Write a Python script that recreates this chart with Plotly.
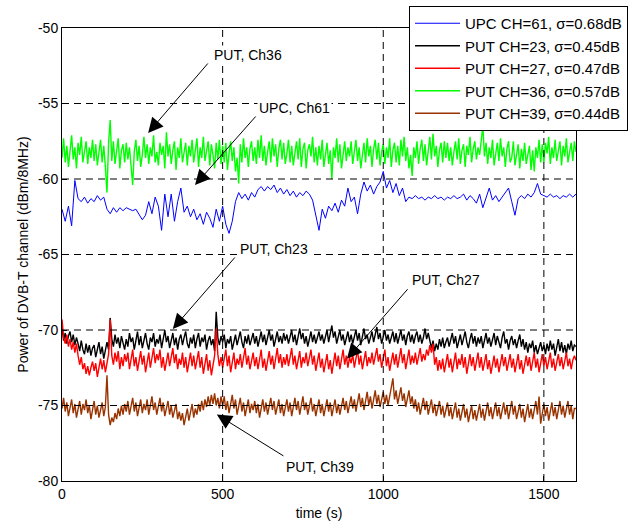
import plotly.graph_objects as go

t_fast = list(range(0, 1601, 5))
t_slow = list(range(0, 1601, 10))

upc61 = [
    -62.0, -62.8, -61.8, -63.1, -60.1, -61.3, -61.5, -61.2, -61.6, -61.3,
    -61.5, -61.1, -61.4, -61.2, -62.0, -62.3, -61.9, -62.2, -61.9, -62.1,
    -61.9, -62.0, -62.1, -62.0, -62.4, -62.7, -62.4, -61.5, -62.3, -61.2,
    -61.8, -63.4, -61.0, -62.5, -61.0, -62.8, -61.5, -60.6, -62.2, -61.8,
    -62.5, -62.0, -62.7, -62.3, -63.0, -62.2, -62.6, -63.2, -62.0, -62.8,
    -61.8, -63.0, -63.6, -62.8, -61.5, -60.9, -61.3, -61.0, -61.4, -60.9,
    -61.2, -60.7, -60.5, -60.8, -60.5, -60.7, -60.4, -60.9, -60.6, -61.0,
    -60.7, -61.1, -60.8, -61.2, -60.9, -61.1, -60.8, -61.0, -61.4, -62.5,
    -63.4, -62.0, -62.6, -61.8, -62.1, -61.6, -62.2, -61.4, -61.8, -60.6,
    -61.5, -61.2, -62.3, -61.0, -60.2, -60.8, -60.4, -61.0, -60.5, -60.2,
    -59.5, -60.6, -60.1, -60.9, -60.3, -61.1, -60.6, -61.5, -61.2, -61.3,
    -61.1, -61.3, -61.2, -61.4, -61.2, -61.3, -61.1, -61.3, -61.2, -61.4,
    -61.2, -61.3, -61.1, -61.3, -61.2, -61.0, -61.4, -61.1, -61.3, -61.6,
    -61.0, -61.9, -61.2, -60.6, -61.4, -61.1, -61.5, -61.2, -60.9, -60.6,
    -61.5, -62.4, -61.3, -61.1, -61.3, -61.0, -61.2, -60.9, -60.3, -61.0,
    -61.1, -61.2, -61.0, -61.2, -61.1, -61.3, -61.1, -61.2, -61.0, -61.2,
    -61.0,
]

put23 = [
    -69.8, -70.7, -70.2, -70.9, -70.4, -70.1, -70.8, -70.3, -71.0, -70.5, -70.9, -71.4, -70.7, -71.3, -71.6, -70.9, -71.5, -71.0, -71.7, -71.2,
    -71.0, -71.8, -71.3, -70.8, -71.6, -71.1, -71.9, -71.2, -70.8, -71.3, -69.2, -70.6, -71.1, -70.3, -70.9, -70.5, -71.2, -70.4, -70.8, -71.3,
    -70.6, -71.1, -70.2, -70.8, -70.5, -71.3, -70.7, -70.1, -71.0, -70.4, -71.2, -70.6, -70.2, -70.9, -71.3, -70.5, -70.8, -70.2, -71.1, -70.6,
    -70.9, -70.3, -71.2, -70.6, -70.0, -70.8, -70.4, -71.2, -70.7, -70.2, -71.0, -70.5, -71.3, -70.6, -70.3, -71.0, -70.5, -70.1, -70.9, -71.2,
    -70.5, -70.9, -70.3, -71.2, -70.6, -70.2, -71.1, -70.5, -70.8, -70.3, -71.3, -70.7, -70.4, -71.0, -70.6, -71.4, -68.8, -70.5, -71.0, -70.4,
    -70.8, -70.3, -71.2, -70.6, -70.9, -70.4, -71.3, -70.7, -70.3, -71.0, -70.5, -70.1, -70.8, -71.2, -70.4, -70.9, -70.3, -71.0, -70.6, -70.2,
    -70.9, -70.4, -71.1, -70.6, -70.1, -70.8, -70.3, -71.0, -70.5, -70.0, -70.7, -70.3, -71.1, -70.5, -70.1, -70.8, -70.4, -70.9, -70.2, -70.7,
    -70.3, -70.9, -70.4, -70.0, -70.8, -70.3, -71.0, -70.5, -69.9, -70.6, -70.2, -70.9, -70.4, -71.1, -70.6, -70.1, -70.8, -70.3, -70.9, -70.4,
    -70.1, -70.7, -70.3, -70.9, -70.4, -70.0, -70.8, -70.2, -69.7, -70.5, -70.1, -70.9, -70.4, -70.0, -70.7, -70.3, -71.0, -70.5, -70.1, -70.8,
    -70.3, -70.9, -70.4, -70.0, -70.7, -70.2, -71.0, -70.5, -69.9, -70.6, -70.3, -70.9, -70.4, -70.1, -70.8, -70.3, -69.8, -70.6, -70.2, -70.9,
    -70.4, -70.0, -70.7, -70.3, -70.9, -70.5, -70.1, -70.8, -70.2, -70.9, -70.5, -70.0, -70.7, -70.3, -71.0, -70.4, -70.1, -70.8, -70.3, -70.9,
    -70.4, -70.1, -70.8, -70.3, -70.9, -70.5, -69.9, -70.6, -70.2, -70.8, -71.2, -70.7, -71.4, -70.9, -71.3, -70.6, -71.1, -70.5, -71.2, -70.8,
    -70.5, -71.1, -70.6, -70.2, -70.9, -70.4, -71.2, -70.7, -70.3, -71.0, -70.5, -70.1, -70.8, -71.2, -70.6, -70.2, -70.9, -70.4, -71.1, -70.5,
    -70.9, -70.4, -71.2, -70.6, -70.2, -70.9, -70.5, -71.1, -70.7, -70.2, -71.0, -70.4, -70.8, -71.2, -70.5, -70.1, -70.9, -70.6, -71.3, -70.7,
    -70.4, -71.0, -70.6, -71.2, -70.7, -70.3, -71.1, -70.6, -71.3, -70.8, -71.5, -70.9, -71.2, -70.7, -71.5, -71.0, -71.6, -71.1, -70.8, -71.4,
    -71.0, -71.6, -70.9, -71.4, -70.7, -71.3, -70.9, -71.7, -71.1, -70.6, -71.4, -70.8, -71.5, -71.0, -71.6, -70.9, -71.3, -70.7, -71.4, -71.0,
    -71.1,
]

put27 = [
    -69.3, -70.5, -70.9, -70.3, -71.1, -70.6, -71.3, -70.8, -71.5, -70.9, -71.7, -72.3, -71.8, -72.6, -72.2, -72.9, -72.4, -73.0, -72.5, -72.1,
    -72.7, -72.2, -73.1, -72.4, -71.9, -72.6, -72.0, -72.8, -72.1, -71.6, -69.3, -71.7, -72.3, -71.5, -72.1, -71.4, -72.6, -71.8, -72.4, -71.6,
    -72.1, -71.5, -72.6, -71.9, -71.3, -72.4, -71.8, -72.7, -72.0, -71.4, -72.3, -71.7, -72.8, -72.1, -71.5, -72.5, -71.9, -71.2, -72.2, -71.6,
    -72.0, -71.3, -72.5, -71.8, -72.7, -72.1, -71.5, -72.4, -71.8, -71.2, -72.2, -71.6, -72.6, -71.9, -72.3, -71.5, -72.5, -71.8, -72.8, -72.1,
    -71.5, -72.4, -71.7, -72.6, -72.0, -71.4, -72.5, -71.8, -72.9, -72.2, -71.6, -72.7, -72.0, -73.0, -72.3, -71.7, -69.9, -71.6, -72.4, -71.8,
    -72.5, -71.9, -71.3, -72.4, -71.7, -72.8, -72.1, -71.5, -72.6, -71.9, -72.3, -71.6, -72.5, -71.8, -71.2, -72.3, -71.7, -72.6, -72.0, -71.5,
    -72.4, -71.8, -72.6, -72.0, -71.3, -72.5, -71.9, -72.7, -72.1, -71.4, -72.3, -71.7, -72.6, -71.9, -71.2, -72.2, -71.6, -72.5, -71.8, -72.3,
    -71.6, -72.4, -71.8, -71.2, -72.3, -71.7, -72.6, -72.0, -71.4, -72.5, -71.8, -72.2, -71.5, -72.4, -71.9, -71.3, -72.3, -71.7, -72.7, -72.0,
    -71.5, -72.5, -71.9, -72.8, -72.2, -71.6, -72.6, -72.0, -72.9, -72.1, -71.5, -72.4, -71.7, -72.6, -71.9, -71.3, -72.3, -71.7, -72.5, -71.8,
    -72.2, -71.6, -72.5, -71.9, -71.3, -72.3, -71.7, -72.6, -72.0, -71.4, -72.4, -71.8, -72.2, -71.5, -72.3, -71.7, -71.2, -72.1, -71.6, -72.5,
    -71.9, -71.3, -72.4, -71.8, -72.7, -72.1, -71.5, -72.3, -71.6, -72.5, -71.9, -71.2, -72.2, -71.6, -72.6, -71.9, -71.3, -72.3, -71.7, -72.2,
    -71.5, -72.3, -71.8, -71.2, -72.1, -71.6, -72.0, -71.3, -71.7, -71.0, -71.5, -70.9, -72.3, -71.8, -72.7, -72.0, -72.6, -71.9, -72.8, -72.2,
    -71.6, -72.5, -71.9, -72.8, -72.1, -71.5, -72.6, -71.9, -72.3, -71.6, -72.5, -71.8, -72.9, -72.2, -71.6, -72.4, -71.8, -72.7, -72.0, -71.5,
    -72.5, -71.8, -72.7, -72.1, -71.6, -72.6, -72.0, -72.9, -72.3, -71.7, -72.5, -71.9, -72.8, -72.1, -71.6, -72.4, -71.8, -72.7, -72.2, -71.6,
    -72.5, -71.9, -72.8, -72.2, -71.6, -72.6, -72.0, -72.9, -72.3, -71.7, -72.4, -71.8, -72.7, -72.1, -71.5, -72.5, -71.9, -72.8, -72.1, -71.6,
    -72.4, -71.8, -72.6, -72.0, -71.5, -72.5, -71.9, -72.7, -72.1, -71.6, -72.4, -71.8, -72.6, -72.0, -71.5, -72.4, -71.9, -72.6, -72.0, -71.7,
    -72.0,
]

put36 = [
    -58.6, -57.3, -58.9, -57.8, -59.2, -58.1, -57.1, -58.7, -57.9, -59.3, -57.6, -58.4, -57.2, -58.9, -58.3, -57.5, -59.0, -57.9, -58.6, -57.4,
    -58.8, -57.7, -59.1, -58.2, -57.4, -58.9, -57.8, -59.2, -60.9, -57.6, -56.1, -58.8, -57.5, -59.0, -58.0, -57.3, -59.3, -58.1, -57.7, -58.9,
    -57.6, -58.7, -57.9, -59.1, -60.4, -58.2, -57.4, -58.8, -57.8, -59.2, -58.4, -57.2, -58.6, -57.7, -59.0, -57.9, -58.5, -57.1, -58.9, -58.2,
    -59.1, -57.6, -58.4, -57.8, -59.3, -56.9, -58.5, -57.7, -59.0, -58.1, -57.5, -59.4, -57.9, -58.6, -57.3, -58.9, -58.2, -57.6, -59.1, -57.8,
    -58.5, -57.4, -58.9, -58.0, -57.3, -59.2, -57.9, -58.6, -57.2, -58.8, -58.1, -57.5, -59.1, -57.7, -58.4, -59.3, -57.6, -58.7, -57.4, -59.0,
    -57.8, -58.9, -57.6, -59.4, -58.3, -57.5, -58.8, -57.9, -59.5, -58.6, -60.3, -57.7, -58.9, -57.3, -58.6, -57.9, -59.2, -58.0, -57.5, -58.8,
    -57.9, -59.0, -57.4, -58.6, -57.1, -58.8, -57.8, -59.1, -58.2, -57.5, -58.9, -57.3, -58.5, -57.7, -59.2, -58.0, -57.4, -58.7, -57.6, -59.0,
    -58.3, -57.4, -58.9, -57.8, -59.1, -58.2, -57.5, -58.7, -57.3, -59.2, -58.0, -57.6, -59.3, -58.1, -57.7, -58.5, -57.2, -58.9, -57.9, -59.1,
    -57.8, -58.7, -57.4, -59.2, -58.3, -57.6, -59.0, -58.1, -60.0, -57.9, -58.6, -57.3, -58.9, -57.7, -59.3, -58.2, -57.5, -58.8, -57.9, -58.5,
    -57.5, -59.0, -58.1, -57.4, -58.8, -57.9, -59.3, -58.2, -57.6, -58.9, -57.3, -58.5, -57.8, -59.2, -58.0, -57.4, -58.7, -57.6, -59.1, -58.2,
    -57.7, -59.0, -57.9, -58.6, -57.3, -59.2, -58.1, -57.6, -58.9, -57.8, -59.1, -57.4, -58.5, -57.2, -58.8, -57.9, -59.3, -58.4, -59.8, -57.9,
    -58.6, -57.5, -59.0, -58.0, -57.4, -58.8, -57.7, -59.1, -58.3, -57.2, -58.7, -57.0, -58.5, -57.8, -59.2, -58.1, -57.6, -58.9, -57.5, -58.6,
    -57.6, -58.8, -57.9, -59.1, -58.2, -57.5, -58.7, -57.3, -59.0, -58.1, -57.7, -59.2, -57.8, -58.4, -57.2, -58.9, -58.0, -57.5, -58.7, -57.9,
    -58.4, -57.3, -56.5, -58.5, -57.6, -59.0, -57.9, -58.6, -57.4, -59.1, -58.2, -57.6, -58.8, -57.3, -58.5, -57.9, -59.2, -58.0, -57.5, -58.9,
    -58.6, -57.5, -59.1, -58.2, -57.7, -59.3, -58.0, -58.8, -57.6, -59.0, -58.3, -57.8, -59.4, -58.1, -59.5, -57.9, -58.6, -57.4, -58.9, -57.7,
    -58.9, -57.6, -58.3, -57.2, -59.0, -57.9, -58.6, -57.4, -58.8, -58.0, -57.5, -59.1, -57.8, -58.5, -57.3, -58.9, -58.1, -57.6, -58.8, -57.5,
    -58.2,
]

put39 = [
    -75.2, -74.5, -75.4, -74.8, -75.7, -75.1, -74.6, -75.5, -74.9, -75.8, -75.2, -74.7, -75.6, -74.9, -75.3, -74.6, -75.5, -75.0, -75.9, -75.3,
    -74.7, -75.6, -75.0, -75.8, -75.2, -74.8, -75.7, -75.1, -73.0, -75.6, -76.3, -75.8, -76.1, -75.5, -75.9, -75.2, -75.7, -75.0, -75.6, -74.9,
    -75.4, -74.7, -75.6, -75.0, -74.5, -75.4, -74.8, -75.7, -75.1, -74.6, -75.5, -74.9, -75.3, -74.6, -75.6, -75.0, -74.4, -75.3, -74.8, -75.6,
    -75.0, -74.5, -75.4, -74.8, -75.7, -75.1, -74.7, -75.6, -75.0, -75.8, -75.3, -74.9, -75.9, -75.4, -76.0, -75.5, -76.3, -75.6, -75.2, -76.0,
    -75.5, -74.9, -75.8, -75.2, -75.6, -74.9, -75.4, -74.7, -75.3, -74.6, -75.1, -74.4, -75.0, -74.3, -74.9, -74.2, -75.0, -74.5, -75.2, -74.4,
    -75.0, -74.4, -75.3, -74.7, -75.5, -74.9, -74.3, -75.2, -74.6, -75.6, -75.0, -74.5, -75.4, -74.8, -75.7, -75.1, -74.6, -75.5, -74.9, -75.3,
    -74.7, -75.5, -74.9, -75.8, -75.2, -74.6, -75.4, -74.8, -75.6, -75.0, -74.5, -75.3, -74.7, -75.6, -75.1, -74.6, -75.5, -74.9, -75.7, -75.2,
    -74.6, -75.4, -74.8, -75.7, -75.1, -74.5, -75.3, -74.7, -75.6, -75.0, -74.4, -75.3, -74.8, -75.6, -75.0, -74.5, -75.4, -74.9, -75.7, -75.1,
    -74.6, -75.5, -74.9, -75.7, -75.1, -74.6, -75.4, -74.8, -75.7, -75.2, -74.6, -75.5, -74.9, -75.6, -75.0, -74.5, -75.3, -74.7, -75.5, -74.9,
    -74.4, -75.2, -74.6, -75.4, -74.8, -74.2, -75.1, -74.5, -75.3, -74.7, -74.1, -75.0, -74.4, -75.2, -74.6, -74.0, -74.9, -74.3, -75.1, -74.5,
    -74.1, -74.9, -74.3, -75.0, -74.4, -73.9, -73.2, -74.6, -74.0, -74.9, -74.3, -73.8, -74.7, -74.2, -75.1, -74.5, -74.0, -74.9, -74.4, -75.2,
    -74.6, -75.4, -74.8, -75.6, -75.0, -74.5, -75.3, -74.7, -75.6, -75.1, -74.6, -75.5, -74.9, -75.7, -75.2, -74.7, -75.6, -75.0, -75.8, -75.3,
    -74.8, -75.7, -75.1, -75.9, -75.3, -74.8, -75.8, -75.2, -76.0, -75.5, -74.9, -75.8, -75.2, -76.1, -75.5, -75.0, -75.9, -75.3, -76.0, -75.4,
    -74.9, -75.8, -75.2, -76.0, -75.4, -74.8, -75.7, -75.1, -75.9, -75.3, -74.8, -75.7, -75.1, -75.9, -75.4, -74.8, -75.6, -75.0, -75.9, -75.3,
    -74.7, -75.6, -75.0, -75.9, -75.4, -74.9, -75.8, -75.2, -76.1, -75.5, -74.9, -75.8, -75.2, -75.9, -75.3, -74.7, -75.6, -74.4, -76.2, -75.5,
    -74.9, -75.7, -75.1, -76.0, -75.4, -74.8, -75.7, -75.1, -75.9, -75.3, -74.7, -75.6, -75.0, -75.8, -75.2, -74.7, -75.6, -75.0, -75.9, -75.2,
    -75.2,
]

series_names = [
    "UPC CH=61, σ=0.68dB",
    "PUT CH=23, σ=0.45dB",
    "PUT CH=27, σ=0.47dB",
    "PUT CH=36, σ=0.57dB",
    "PUT CH=39, σ=0.44dB",
]
series_values = [upc61, put23, put27, put36, put39]
series_times = [t_slow, t_fast, t_fast, t_fast, t_fast]
series_colors = ["#0000FF", "#000000", "#FF0000", "#00FF00", "#993300"]
series_widths = [1, 1.4, 1.4, 1.4, 1.4]

x_ticks = [0, 500, 1000, 1500]
x_tick_labels = ["0", "500", "1000", "1500"]
y_ticks = [-80, -75, -70, -65, -60, -55, -50]
y_tick_labels = ["-80", "-75", "-70", "-65", "-60", "-55", "-50"]
x_range = [0, 1600]
y_range = [-80, -50]

# annotation labels: (text, text x, text y, arrow tail x, tail y, head x, head y)
labels = [
    ("PUT, Ch36", 579, -51.79, 458, -52.25, 268, -56.95),
    ("UPC, Ch61", 725, -55.3, 607, -55.76, 414, -60.4),
    ("PUT, Ch23", 660, -64.64, 542, -65.1, 345, -69.93),
    ("PUT, Ch27", 1195, -66.7, 1080, -67.2, 887, -71.9),
    ("PUT, Ch39", 803, -79.07, 694, -78.4, 482, -75.6),
]

FONT = "Liberation Sans, Arial, Helvetica, sans-serif"

fig = go.Figure()
for name, tt, vals, col, w in zip(series_names, series_times, series_values,
                                  series_colors, series_widths):
    fig.add_trace(go.Scatter(x=tt, y=vals, mode="lines", name=name,
                             line=dict(color=col, width=w)))

# dashed grid drawn above the data (as in the original figure)
grid_style = dict(color="black", width=1, dash="7px,5px")
for xv in x_ticks:
    if x_range[0] < xv < x_range[1]:
        fig.add_shape(type="line", xref="x", yref="paper", x0=xv, x1=xv,
                      y0=0, y1=1, line=grid_style, layer="above")
for yv in y_ticks:
    if y_range[0] < yv < y_range[1]:
        fig.add_shape(type="line", xref="paper", yref="y", x0=0, x1=1,
                      y0=yv, y1=yv, line=grid_style, layer="above")

for text, tx, ty, ax, ay, hx, hy in labels:
    fig.add_annotation(x=hx, y=hy, ax=ax, ay=ay, xref="x", yref="y",
                       axref="x", ayref="y", text="", showarrow=True,
                       arrowhead=2, arrowsize=3, arrowwidth=1,
                       arrowcolor="black", standoff=0, startstandoff=0)
    fig.add_annotation(x=tx, y=ty, xref="x", yref="y", text=text,
                       showarrow=False, bgcolor="white",
                       font=dict(family=FONT, size=14, color="black"))

axis_common = dict(showline=True, linecolor="black", linewidth=1, mirror=True,
                   ticks="inside", ticklen=5, tickcolor="black",
                   showgrid=False, zeroline=False,
                   tickfont=dict(family=FONT, size=14, color="black"))

fig.update_xaxes(range=x_range, tickvals=x_ticks, ticktext=x_tick_labels,
                 title=dict(text="time (s)", standoff=8,
                            font=dict(family=FONT, size=14, color="black")),
                 **axis_common)
fig.update_yaxes(range=y_range, tickvals=y_ticks, ticktext=y_tick_labels,
                 title=dict(text="Power of DVB-T channel (dBm/8MHz)", standoff=6,
                            font=dict(family=FONT, size=14, color="black")),
                 **axis_common)

fig.update_layout(
    width=635, height=521,
    margin=dict(l=62, r=59, t=28, b=40, autoexpand=False),
    paper_bgcolor="white", plot_bgcolor="white",
    showlegend=True,
    legend=dict(xref="container", yref="container",
                x=628 / 635, y=(521 - 6) / 521, xanchor="right", yanchor="top",
                bgcolor="white", bordercolor="black", borderwidth=1,
                itemwidth=45,
                font=dict(family=FONT, size=15, color="black")),
    font=dict(family=FONT, size=14, color="black"),
)

fig.write_html("out.html")
